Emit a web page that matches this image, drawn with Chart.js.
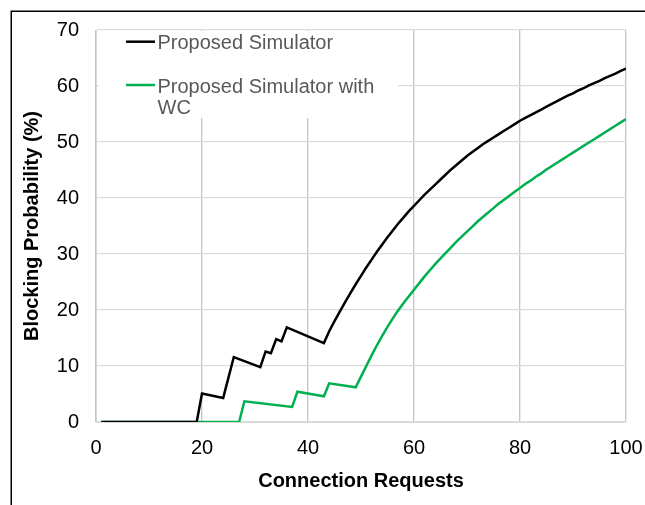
<!DOCTYPE html>
<html>
<head>
<meta charset="utf-8">
<script src="https://cdn.jsdelivr.net/npm/chart.js@4.4.1/dist/chart.umd.min.js"></script>
<style>
  html, body { margin: 0; padding: 0; background: #fff; }
  canvas { display: block; }
</style>
</head>
<body>
<canvas id="chart" width="645" height="505"></canvas>
<script>
// Connection requests (x) and blocking probability in % (y)
const requestsSim = [1, 19, 20, 24, 26, 31, 32, 33, 34, 35, 36, 43,
  44, 45, 46, 47, 48, 49, 50, 51, 52, 53, 54, 55, 56, 57, 58, 59, 60,
  61, 62, 63, 64, 65, 66, 67, 68, 69, 70, 71, 72, 73, 74, 75, 76, 77, 78, 79, 80,
  81, 82, 83, 84, 85, 86, 87, 88, 89, 90, 91, 92, 93, 94, 95, 96, 97, 98, 99, 100];
const blockingSim = [0, 0, 5.1, 4.3, 11.6, 9.8, 12.6, 12.3, 14.8, 14.4, 16.9, 14.1,
  16.2, 18.0, 19.7, 21.4, 23.0, 24.6, 26.1, 27.6, 29.0, 30.4, 31.7, 33.0, 34.2, 35.4, 36.5, 37.6, 38.6,
  39.6, 40.6, 41.5, 42.4, 43.3, 44.2, 45.1, 45.9, 46.7, 47.5, 48.2, 48.9, 49.6, 50.2, 50.8, 51.4, 52.0, 52.6, 53.2, 53.8,
  54.3, 54.8, 55.3, 55.8, 56.3, 56.8, 57.3, 57.8, 58.3, 58.7, 59.2, 59.6, 60.1, 60.5, 60.9, 61.4, 61.8, 62.2, 62.7, 63.1];

const requestsWC = [1, 27, 28, 37, 38, 43, 44, 49,
  50, 51, 52, 53, 54, 55, 56, 57, 58, 59, 60, 61, 62, 63, 64, 65, 66, 67, 68, 69, 70,
  71, 72, 73, 74, 75, 76, 77, 78, 79, 80, 81, 82, 83, 84, 85, 86, 87, 88, 89, 90,
  91, 92, 93, 94, 95, 96, 97, 98, 99, 100];
const blockingWC = [0, 0, 3.7, 2.7, 5.4, 4.6, 6.9, 6.2,
  8.1, 10.0, 11.9, 13.7, 15.4, 17.0, 18.5, 19.9, 21.2, 22.4, 23.6, 24.8, 26.0, 27.1, 28.2, 29.2, 30.2, 31.2, 32.2, 33.1, 34.0,
  34.9, 35.8, 36.6, 37.4, 38.2, 39.0, 39.7, 40.4, 41.1, 41.8, 42.5, 43.1, 43.8, 44.4, 45.1, 45.7, 46.3, 46.9, 47.5, 48.1,
  48.7, 49.3, 49.9, 50.5, 51.1, 51.7, 52.3, 52.9, 53.5, 54.1];

const seriesNames = ['Proposed Simulator', 'Proposed Simulator with WC'];
const seriesColors = ['#000000', '#00b050'];

const FONT = 'Arial, "Liberation Sans", sans-serif';

const toPoints = (xs, ys) => xs.map((x, i) => ({ x: x, y: ys[i] }));

// white page, black frame (cut off at the right/bottom) and the in-plot legend
const decor = {
  id: 'decor',
  beforeDraw(chart) {
    const ctx = chart.ctx;
    ctx.save();
    ctx.fillStyle = '#fff';
    ctx.fillRect(0, 0, chart.width, chart.height);
    ctx.strokeStyle = '#000';
    ctx.lineWidth = 1.5;
    ctx.strokeRect(11.25, 11.25, chart.width + 20, chart.height + 20);
    ctx.restore();
  },
  afterDatasetsDraw(chart) {
    const ctx = chart.ctx;
    ctx.save();
    ctx.fillStyle = '#fff';
    ctx.fillRect(99, 31, 299, 87);
    ctx.font = '20px ' + FONT;
    ctx.textBaseline = 'alphabetic';
    ctx.textAlign = 'left';
    ctx.lineWidth = 2.5;
    // entry 1
    ctx.strokeStyle = seriesColors[0];
    ctx.beginPath(); ctx.moveTo(126, 41.7); ctx.lineTo(155, 41.7); ctx.stroke();
    ctx.fillStyle = '#595959';
    ctx.fillText(seriesNames[0], 157.5, 49);
    // entry 2 (wrapped like the original)
    ctx.strokeStyle = seriesColors[1];
    ctx.beginPath(); ctx.moveTo(126, 85); ctx.lineTo(155, 85); ctx.stroke();
    ctx.fillText('Proposed Simulator with', 157.5, 92.7);
    ctx.fillText('WC', 157.5, 114.3);
    ctx.restore();
  }
};

new Chart(document.getElementById('chart'), {
  type: 'scatter',
  data: {
    datasets: [
      {
        label: seriesNames[0],
        data: toPoints(requestsSim, blockingSim),
        showLine: true,
        borderColor: seriesColors[0],
        borderWidth: 2.5,
        pointRadius: 0,
        tension: 0
      },
      {
        label: seriesNames[1],
        data: toPoints(requestsWC, blockingWC),
        showLine: true,
        borderColor: seriesColors[1],
        borderWidth: 2.5,
        pointRadius: 0,
        tension: 0
      }
    ]
  },
  options: {
    responsive: false,
    animation: false,
    devicePixelRatio: 1,
    layout: { padding: { top: 30, right: 19, left: 0, bottom: 0 } },
    plugins: { legend: { display: false }, tooltip: { enabled: false } },
    scales: {
      x: {
        type: 'linear',
        min: 0,
        max: 100,
        afterFit: (s) => { s.height = 83; s.paddingLeft = 0; s.paddingRight = 0; },
        ticks: { stepSize: 20, color: '#000', font: { size: 20, family: FONT }, padding: 14, maxRotation: 0 },
        grid: { color: '#c4c4c4', lineWidth: 1.3, drawTicks: false },
        border: { color: '#d9d9d9' },
        title: {
          display: true,
          text: 'Connection Requests',
          color: '#000',
          font: { size: 20, weight: 'bold', family: FONT },
          padding: { top: 0, bottom: 12 }
        }
      },
      y: {
        min: 0,
        max: 70,
        afterFit: (s) => { s.width = 96; s.paddingTop = 0; s.paddingBottom = 0; },
        ticks: { stepSize: 10, color: '#000', font: { size: 20, family: FONT }, padding: 17 },
        grid: { color: '#dcdcdc', lineWidth: 1.3, drawTicks: false },
        border: { color: '#d9d9d9' },
        title: {
          display: true,
          text: 'Blocking Probability (%)',
          color: '#000',
          font: { size: 20, weight: 'bold', family: FONT },
          padding: { top: 20, bottom: 0 }
        }
      }
    }
  },
  plugins: [decor]
});
</script>
</body>
</html>
